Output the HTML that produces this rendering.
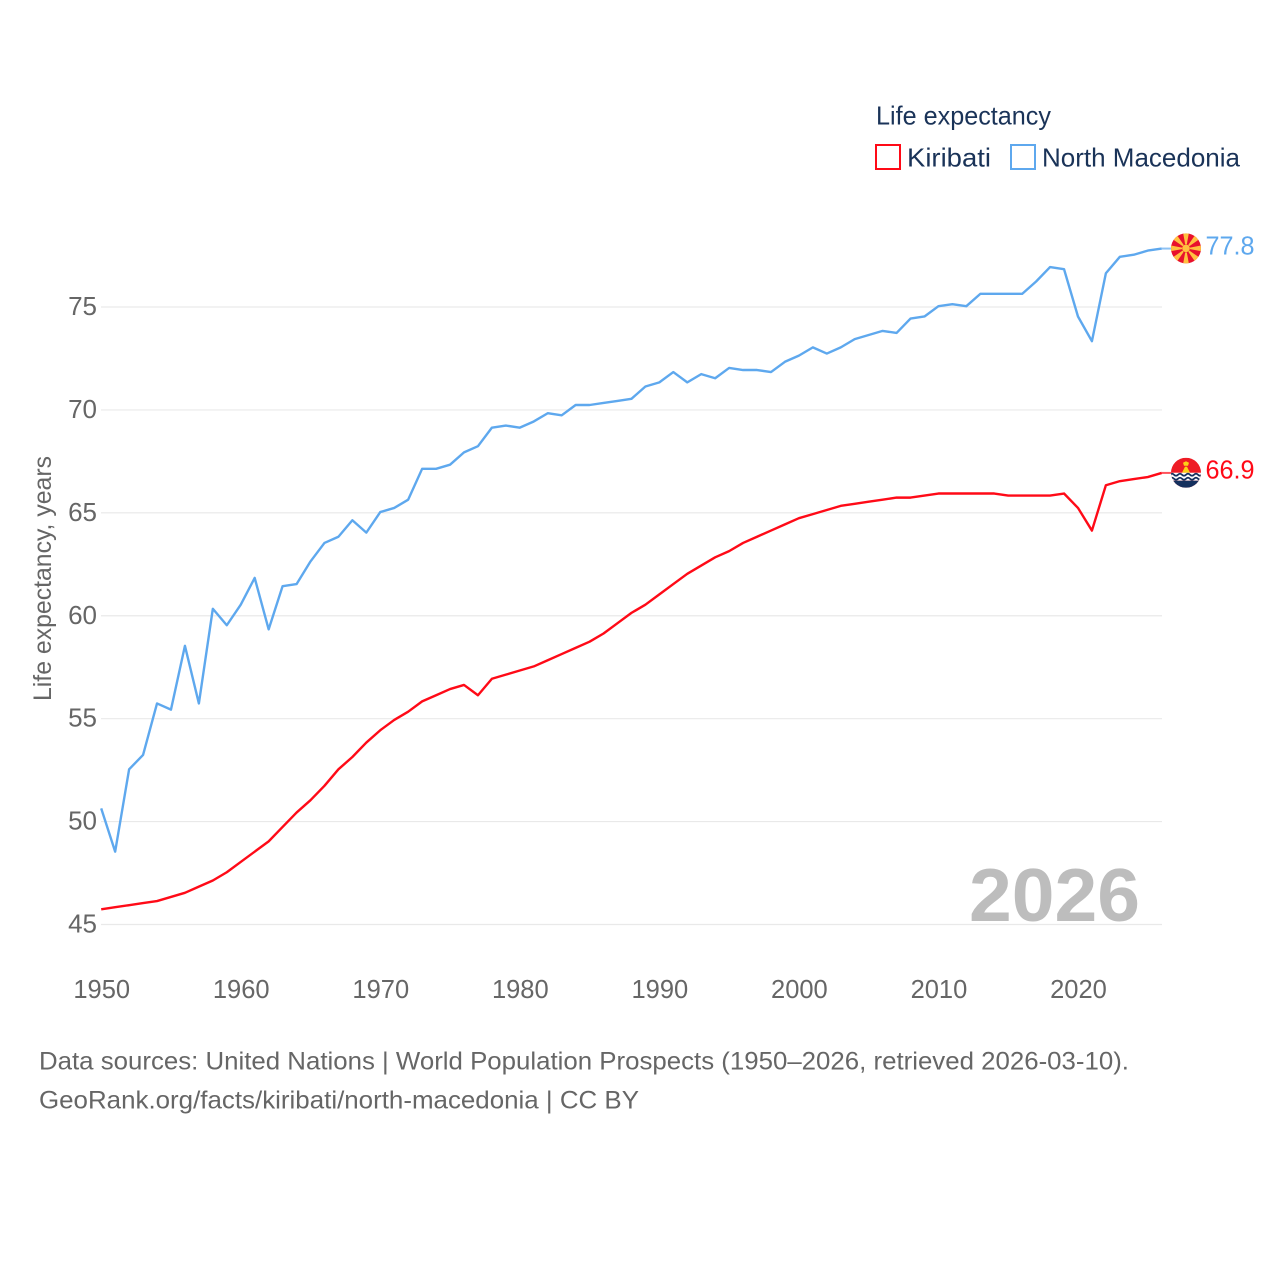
<!DOCTYPE html>
<html lang="en">
<head>
<meta charset="utf-8">
<title>Life expectancy: Kiribati vs North Macedonia</title>
<style>
html,body{margin:0;padding:0;background:#fff;width:1280px;height:1280px;overflow:hidden}
svg{display:block;font-family:"Liberation Sans",sans-serif}
</style>
</head>
<body>
<svg id="chart" xmlns="http://www.w3.org/2000/svg" width="1280" height="1280" viewBox="0 0 1280 1280">
  <g id="grid"></g>
  <g id="y-ticks"></g>
  <g id="x-ticks"></g>
  <text transform="translate(51,701) rotate(-90)" font-size="25" fill="#666" textLength="245" lengthAdjust="spacingAndGlyphs">Life expectancy, years</text>
  <text x="969" y="921" font-size="75" font-weight="700" fill="#bdbdbd" textLength="171" lengthAdjust="spacingAndGlyphs">2026</text>
  <g id="series"></g>

  <g>
    <text x="876" y="124.5" font-size="26" fill="#1a3358" textLength="175" lengthAdjust="spacingAndGlyphs">Life expectancy</text>
    <g>
      <rect x="876" y="145" width="24" height="24" fill="#fff" stroke="#ff0a17" stroke-width="2"/>
      <text x="907" y="166.5" font-size="26" fill="#1a3358" textLength="84" lengthAdjust="spacingAndGlyphs">Kiribati</text>
    </g>
    <g>
      <rect x="1011" y="145" width="24" height="24" fill="#fff" stroke="#5ea8ee" stroke-width="2"/>
      <text x="1042" y="166.5" font-size="26" fill="#1a3358" textLength="198" lengthAdjust="spacingAndGlyphs">North Macedonia</text>
    </g>
  </g>

  <g>
    <text x="39" y="1069.5" font-size="25" fill="#666" textLength="1090" lengthAdjust="spacingAndGlyphs">Data sources: United Nations | World Population Prospects (1950–2026, retrieved 2026-03-10).</text>
    <text x="39" y="1108.5" font-size="25" fill="#666" textLength="600" lengthAdjust="spacingAndGlyphs">GeoRank.org/facts/kiribati/north-macedonia | CC BY</text>
  </g>
  <defs>
    <clipPath id="flag-clip"><circle cx="0" cy="0" r="15"/></clipPath>
  </defs>
  <g id="end-markers"></g>
</svg>
<script>
const years = [1950,1951,1952,1953,1954,1955,1956,1957,1958,1959,1960,1961,1962,1963,1964,1965,1966,1967,1968,1969,1970,1971,1972,1973,1974,1975,1976,1977,1978,1979,1980,1981,1982,1983,1984,1985,1986,1987,1988,1989,1990,1991,1992,1993,1994,1995,1996,1997,1998,1999,2000,2001,2002,2003,2004,2005,2006,2007,2008,2009,2010,2011,2012,2013,2014,2015,2016,2017,2018,2019,2020,2021,2022,2023,2024,2025,2026];
const kiribati = [45.7,45.8,45.9,46.0,46.1,46.3,46.5,46.8,47.1,47.5,48.0,48.5,49.0,49.7,50.4,51.0,51.7,52.5,53.1,53.8,54.4,54.9,55.3,55.8,56.1,56.4,56.6,56.1,56.9,57.1,57.3,57.5,57.8,58.1,58.4,58.7,59.1,59.6,60.1,60.5,61.0,61.5,62.0,62.4,62.8,63.1,63.5,63.8,64.1,64.4,64.7,64.9,65.1,65.3,65.4,65.5,65.6,65.7,65.7,65.8,65.9,65.9,65.9,65.9,65.9,65.8,65.8,65.8,65.8,65.9,65.2,64.1,66.3,66.5,66.6,66.7,66.9];
const northMacedonia = [50.6,48.5,52.5,53.2,55.7,55.4,58.5,55.7,60.3,59.5,60.5,61.8,59.3,61.4,61.5,62.6,63.5,63.8,64.6,64.0,65.0,65.2,65.6,67.1,67.1,67.3,67.9,68.2,69.1,69.2,69.1,69.4,69.8,69.7,70.2,70.2,70.3,70.4,70.5,71.1,71.3,71.8,71.3,71.7,71.5,72.0,71.9,71.9,71.8,72.3,72.6,73.0,72.7,73.0,73.4,73.6,73.8,73.7,74.4,74.5,75.0,75.1,75.0,75.6,75.6,75.6,75.6,76.2,76.9,76.8,74.5,73.3,76.6,77.4,77.5,77.7,77.8];
const yTickValues = [45,50,55,60,65,70,75];
const xTickValues = [1950,1960,1970,1980,1990,2000,2010,2020];

const NS = 'http://www.w3.org/2000/svg';
function xScale(year){ return 101.2 + (year - 1950) * (1161.7 - 101.2) / 76; }
function yScale(v){ return 924.5 - (v - 45) * (924.5 - 307) / 30; }
function make(tag, attrs, parent){
  const el = document.createElementNS(NS, tag);
  for (const k in attrs) el.setAttribute(k, attrs[k]);
  parent.appendChild(el);
  return el;
}

const grid = document.getElementById('grid');
const yTicks = document.getElementById('y-ticks');
yTickValues.forEach(function(v){
  const line = make('line', {x1:101, x2:1162, y1:yScale(v), y2:yScale(v), stroke:'#e9e9e9', 'stroke-width':1.2}, grid);
  
  
  const t = make('text', {x:97, y:yScale(v)+8, 'text-anchor':'end', 'font-size':26, fill:'#666'}, yTicks);
  
  
  t.textContent = v;
});

const xTicks = document.getElementById('x-ticks');
xTickValues.forEach(function(y){
  const t = make('text', {x:xScale(y)+0.5, y:998, 'text-anchor':'middle', 'font-size':25.5, fill:'#666'}, xTicks);
  
  
  t.textContent = y;
});

const series = document.getElementById('series');
function drawSeries(values, color, name){
  const pts = values.map(function(v, i){ return xScale(years[i]).toFixed(2) + ',' + (yScale(v) - 0.8).toFixed(2); }).join(' ');
  const line = make('polyline', {points:pts, fill:'none', stroke:color, 'stroke-width':2.4, 'stroke-linejoin':'round'}, series);
  
  
}
drawSeries(kiribati, '#ff0a17', 'line-kiribati');
drawSeries(northMacedonia, '#5ea8ee', 'line-north-macedonia');

const markers = document.getElementById('end-markers');
function drawEnd(values, color, name){
  const last = values[values.length - 1];
  const y = yScale(last);
  const conn = make('line', {x1:xScale(years[years.length-1]), x2:1175, y1:y-0.8, y2:y-0.8, stroke:color, 'stroke-width':2, 'stroke-opacity':0.7}, markers);
  
  
  const label = make('text', {x:1205.5, y:y+5, 'font-size':26, fill:color, textLength:49, lengthAdjust:'spacingAndGlyphs'}, markers);
  
  
  label.textContent = last.toFixed(1);
  const flag = make('g', {transform:'translate(1186,' + (y-1).toFixed(2) + ')', 'clip-path':'url(#flag-clip)'}, markers);
  
  
  return flag;
}

const mkFlag = drawEnd(northMacedonia, '#5ea8ee', 'north-macedonia');
make('rect', {x:-15, y:-15, width:30, height:30, fill:'#e8112d'}, mkFlag);
[0,45,90,135,180,225,270,315].forEach(function(deg){
  make('polygon', {points:'-0.8,-4 0.8,-4 3,-16 -3,-16', fill:'#ffc040', transform:'rotate(' + deg + ')'}, mkFlag);
});
make('circle', {cx:0, cy:0, r:3.8, fill:'#ffc040'}, mkFlag);

const kiFlag = drawEnd(kiribati, '#ff0a17', 'kiribati');
make('rect', {x:-15, y:-15, width:30, height:30, fill:'#ee1c25'}, kiFlag);
make('polygon', {points:'-1,-6 1,-6 4,0 -4,0', fill:'#fcd116'}, kiFlag);
make('polygon', {points:'-3,-10 0,-11.5 3,-10 2,-7 -2,-7', fill:'#fcd116'}, kiFlag);
make('rect', {x:-15, y:0, width:30, height:8, fill:'#ffffff'}, kiFlag);
make('rect', {x:-15, y:8, width:30, height:7, fill:'#14305e'}, kiFlag);
[2,6].forEach(function(wy){
  make('path', {d:'M-16 '+wy+' q2 -2 4 0 t4 0 t4 0 t4 0 t4 0 t4 0 t4 0 t4 0', fill:'none', stroke:'#14305e', 'stroke-width':1.8}, kiFlag);
});
</script>
</body>
</html>
